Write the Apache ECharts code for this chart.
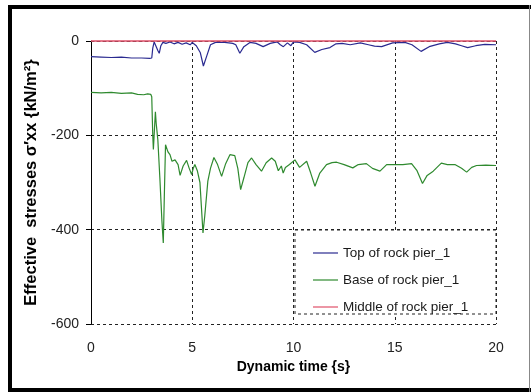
<!DOCTYPE html>
<html>
<head>
<meta charset="utf-8">
<script src="https://cdn.jsdelivr.net/npm/echarts@6/dist/echarts.min.js"></script>
<style>
html,body{margin:0;padding:0;background:#fff;}
#c{width:531px;height:392px;}
</style>
</head>
<body>
<div id="c"></div>
<script>
const xTicks = [0, 5, 10, 15, 20];
const yTicks = [-600, -400, -200, 0];
const seriesNames = ['Top of rock pier_1', 'Base of rock pier_1', 'Middle of rock pier_1'];

// [time (s), stress (kN/m2)]
const topData = [
  [0,-33],[0.5,-34],[1,-35],[1.5,-34],[2,-36],[2.5,-36],[2.9,-37],[3.0,-36],[3.05,-15],[3.12,-2],
  [3.2,-5],[3.3,-20],[3.37,-26],[3.45,-10],[3.55,-3],[3.7,-5],[3.9,-2],[4.1,-6],[4.3,-3],[4.5,-7],
  [4.7,-4],[4.9,-8],[5.0,-3],[5.2,-10],[5.4,-25],[5.55,-53],[5.73,-30],[5.9,-8],[6.15,-3],[6.6,-3],
  [7.0,-5],[7.15,-8],[7.35,-26],[7.55,-12],[7.85,-3],[8.15,-5],[8.5,-12],[8.85,-5],[9.2,-2],[9.35,-8],
  [9.5,-12],[9.7,-4],[9.87,-10],[10.0,-2],[10.3,-3],[10.65,-8],[11.05,-24],[11.4,-18],[11.8,-14],[12.1,-6],
  [12.4,-5],[12.8,-8],[13.3,-4],[13.7,-8],[14.0,-11],[14.35,-12],[14.9,-4],[15.5,-3],[15.85,-8],[16.3,-22],
  [16.7,-12],[17.2,-6],[17.6,-3],[18.0,-6],[18.3,-10],[18.6,-14],[19.0,-10],[19.45,-7],[20,-8]
];
const baseData = [
  [0,-109],[0.5,-110],[1.0,-109],[1.5,-111],[2.0,-110],[2.3,-113],[2.6,-114],[2.8,-112],[2.95,-113],[3.0,-118],
  [3.05,-200],[3.08,-230],[3.13,-190],[3.18,-150],[3.22,-175],[3.3,-209],[3.4,-290],[3.5,-380],[3.57,-428],[3.62,-330],
  [3.68,-220],[3.8,-235],[3.9,-241],[4.0,-255],[4.15,-252],[4.3,-262],[4.4,-285],[4.55,-265],[4.72,-253],[4.85,-270],
  [4.97,-283],[5.05,-270],[5.13,-262],[5.25,-275],[5.38,-300],[5.45,-350],[5.53,-407],[5.62,-370],[5.77,-297],[5.9,-270],
  [6.07,-247],[6.25,-262],[6.45,-287],[6.65,-260],[6.86,-241],[7.1,-243],[7.25,-270],[7.39,-315],[7.55,-290],[7.75,-258],
  [7.93,-248],[8.15,-262],[8.42,-276],[8.65,-258],[8.92,-248],[9.1,-255],[9.25,-275],[9.4,-265],[9.49,-280],[9.6,-268],
  [9.8,-262],[10.07,-252],[10.3,-268],[10.65,-255],[10.85,-280],[11.06,-308],[11.3,-280],[11.63,-262],[11.9,-258],[12.13,-257],
  [12.5,-262],[12.93,-269],[13.2,-262],[13.6,-260],[13.9,-270],[14.27,-276],[14.6,-262],[15.0,-262],[15.4,-262],[15.83,-260],
  [16.1,-275],[16.37,-302],[16.6,-285],[16.9,-276],[17.3,-259],[17.6,-262],[17.97,-262],[18.3,-270],[18.55,-278],[18.8,-268],
  [19.04,-264],[19.5,-263],[20,-264]
];
const middleData = [[0,0],[5,0],[10,0],[15,0],[20,0]];

const FONT = 'Liberation Sans, Arial, sans-serif';
const chart = echarts.init(document.getElementById('c'), null, {renderer: 'canvas'});
const dashed = {color: '#222', width: 1, type: [3, 3]};

chart.setOption({
  animation: false,
  backgroundColor: '#fff',
  textStyle: {fontFamily: FONT},
  grid: {left: 91, right: 35, top: 41, bottom: 68, containLabel: false},
  xAxis: {
    type: 'value', min: xTicks[0], max: xTicks[xTicks.length - 1], interval: 5,
    name: 'Dynamic time {s}', nameLocation: 'middle', nameGap: 36,
    nameTextStyle: {fontFamily: FONT, fontSize: 14, fontWeight: 'bold', color: '#000'},
    axisLine: {show: true, lineStyle: dashed},
    axisTick: {show: false},
    axisLabel: {fontFamily: FONT, fontSize: 14, color: '#222', margin: 17},
    splitLine: {show: true, showMinLine: false, lineStyle: dashed}
  },
  yAxis: {
    type: 'value', min: yTicks[0], max: yTicks[yTicks.length - 1], interval: 200,
    name: 'Effective  stresses σ′xx {kN/m²}', nameLocation: 'middle', nameGap: 51,
    nameTextStyle: {fontFamily: FONT, fontSize: 16.5, fontWeight: 'bold', color: '#000'},
    axisLine: {show: true, lineStyle: {color: '#000', width: 1}},
    axisTick: {show: true, length: 5, lineStyle: {color: '#000'}},
    axisLabel: {fontFamily: FONT, fontSize: 14, color: '#222', margin: 12},
    splitLine: {show: true, showMaxLine: false, lineStyle: dashed}
  },
  legend: {
    data: seriesNames, orient: 'vertical', left: 313, top: 246,
    icon: 'rect', itemWidth: 25, itemHeight: 1.2, itemGap: 13, padding: 0,
    textStyle: {fontFamily: FONT, fontSize: 13.5, color: '#1a1a1a'},
    z: 10
  },
  graphic: [
    {type: 'rect', z: 5, shape: {x: 295, y: 230, width: 201, height: 84},
     style: {fill: '#fff', stroke: '#222', lineWidth: 1, lineDash: [3, 3]}},
    {type: 'rect', z: 20, shape: {x: 8, y: 5, width: 523, height: 4}, style: {fill: '#000'}},
    {type: 'rect', z: 20, shape: {x: 8, y: 5, width: 4, height: 387}, style: {fill: '#000'}},
    {type: 'rect', z: 20, shape: {x: 8, y: 388, width: 523, height: 4}, style: {fill: '#000'}},
    {type: 'rect', z: 20, shape: {x: 529, y: 5, width: 1, height: 387}, style: {fill: '#888'}}
  ],
  series: [
    {name: seriesNames[0], type: 'line', data: topData, showSymbol: false, symbol: 'none', clip: false,
     lineStyle: {color: '#2a2a90', width: 1.2}, itemStyle: {color: '#2a2a90'}, z: 3},
    {name: seriesNames[1], type: 'line', data: baseData, showSymbol: false, symbol: 'none', clip: false,
     lineStyle: {color: '#2f8a2f', width: 1.2}, itemStyle: {color: '#2f8a2f'}, z: 3},
    {name: seriesNames[2], type: 'line', data: middleData, showSymbol: false, symbol: 'none', clip: false,
     lineStyle: {color: '#e0506a', width: 1.5}, itemStyle: {color: '#e0506a'}, z: 4}
  ]
});
</script>
</body>
</html>
